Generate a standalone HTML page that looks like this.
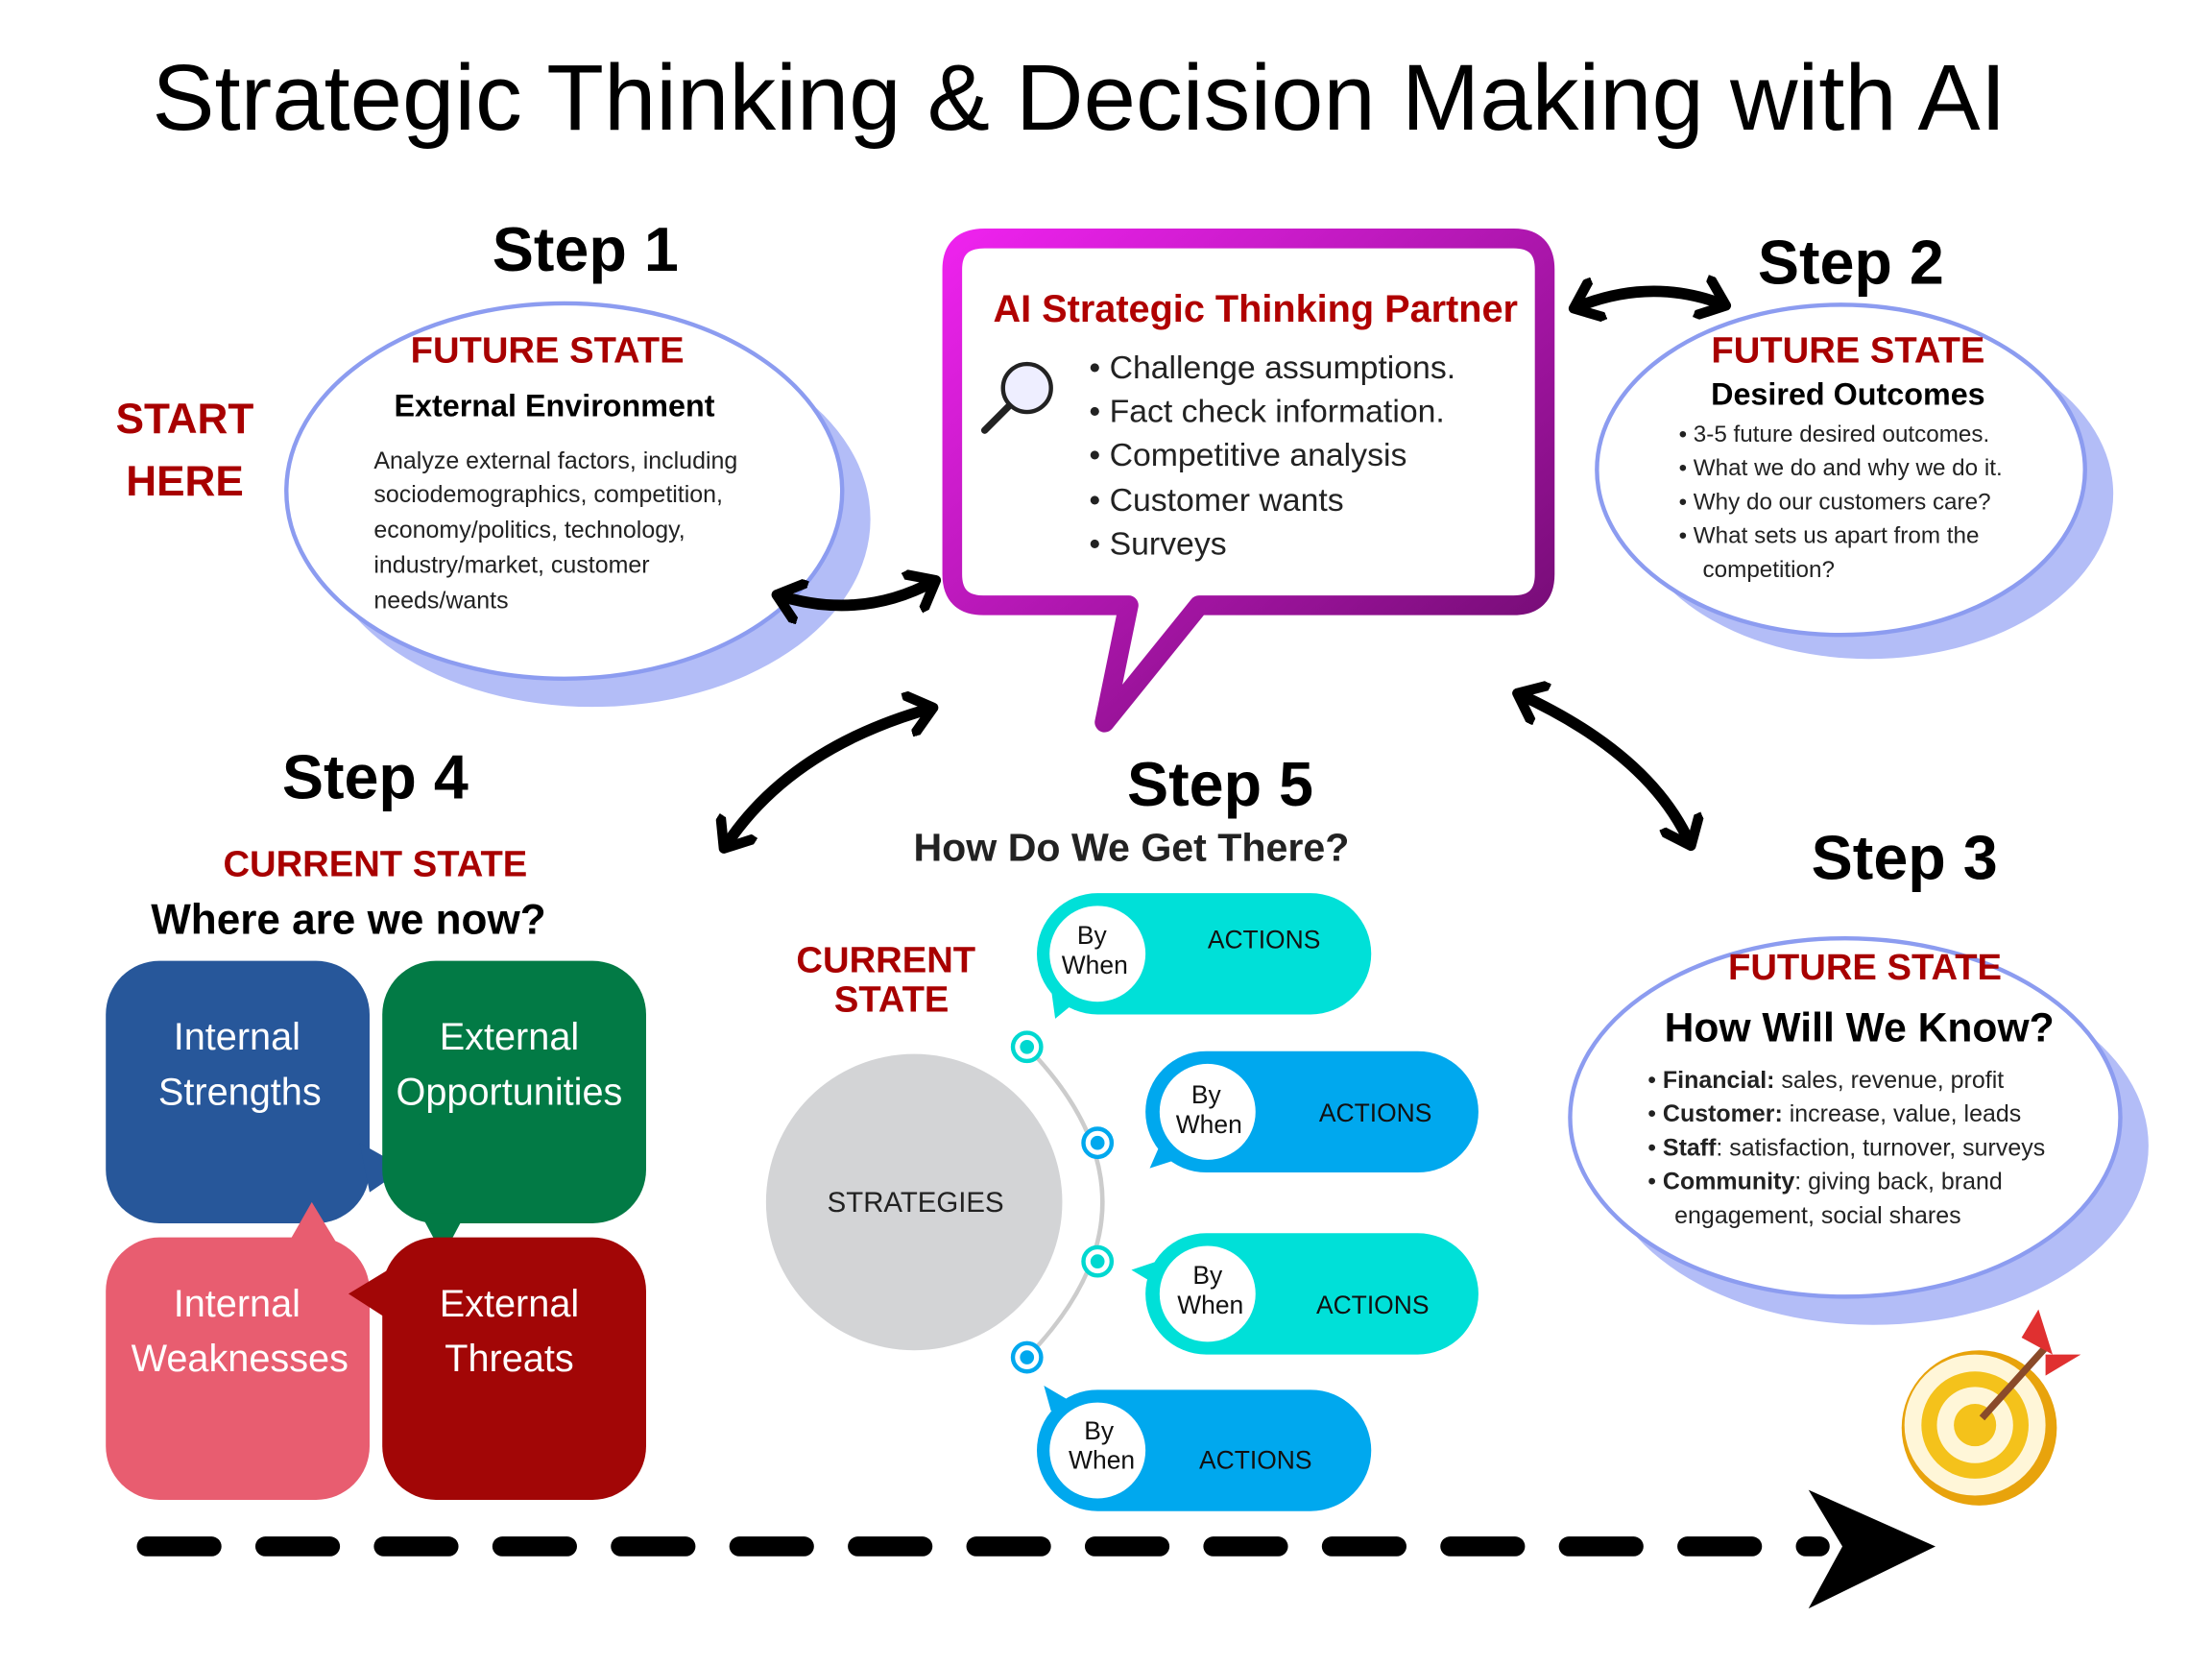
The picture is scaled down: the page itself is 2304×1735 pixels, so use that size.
<!DOCTYPE html>
<html><head><meta charset="utf-8"><style>
body{margin:0;background:#fff;overflow:hidden}
#w{width:1568px;height:1176px;transform:scale(1.469388);transform-origin:0 0;position:relative}
svg text{font-family:"Liberation Sans",sans-serif}
</style></head><body><div id="w">
<svg width="1568" height="1176" viewBox="0 0 1568 1176" xmlns="http://www.w3.org/2000/svg">
<defs>
<linearGradient id="g" x1="0" y1="0" x2="1" y2="1"><stop offset="0" stop-color="#ee22ee"/><stop offset="1" stop-color="#6a0a6a"/></linearGradient>
<marker id="ah" markerWidth="4" markerHeight="4" refX="2.2" refY="2" orient="auto-start-reverse" markerUnits="strokeWidth"><path d="M0.3,0.3 L2.4,2 L0.3,3.7" fill="none" stroke="#000" stroke-width="0.9" stroke-linecap="round" stroke-linejoin="round"/></marker>
</defs>
<text x="765" y="92" font-size="66.5" text-anchor="middle">Strategic Thinking &amp; Decision Making with AI</text>

<!-- Step 1 -->
<text x="415" y="192" font-size="44" font-weight="bold" text-anchor="middle">Step 1</text>
<ellipse cx="420" cy="368" rx="197" ry="133" fill="#b3bdf7"/>
<ellipse cx="400" cy="348" rx="197" ry="133" fill="#fff" stroke="#8c9cf0" stroke-width="3"/>
<text x="388" y="257" font-size="26" font-weight="bold" fill="#a80000" text-anchor="middle">FUTURE STATE</text>
<text x="393" y="295" font-size="22" font-weight="bold" text-anchor="middle">External  Environment</text>
<g font-size="17" fill="#222"><text x="265" y="332">Analyze external factors, including</text><text x="265" y="356">sociodemographics, competition,</text><text x="265" y="381">economy/politics, technology,</text><text x="265" y="406">industry/market, customer</text><text x="265" y="431">needs/wants</text></g>
<g font-size="30" font-weight="bold" fill="#a80000" text-anchor="middle"><text x="131" y="307">START</text><text x="131" y="351">HERE</text></g>

<!-- bubble -->
<path d="M698,169 H1073 Q1095,169 1095,191 V407 Q1095,429 1073,429 H850 L783,512 L800,429 H697 Q675,429 675,407 V191 Q675,169 698,169 Z" fill="#fff" stroke="url(#g)" stroke-width="14" stroke-linejoin="round"/>
<text x="890" y="228" font-size="27" font-weight="bold" fill="#b00000" text-anchor="middle">AI Strategic Thinking Partner</text>
<g font-size="23" fill="#222"><text x="772" y="268">•  Challenge assumptions.</text><text x="772" y="299">•  Fact check  information.</text><text x="772" y="330">•  Competitive analysis</text><text x="772" y="362">•  Customer wants</text><text x="772" y="393">•  Surveys</text></g>
<circle cx="728" cy="275" r="17" fill="#eef" stroke="#222" stroke-width="3"/>
<line x1="715" y1="288" x2="698" y2="305" stroke="#222" stroke-width="5" stroke-linecap="round"/>

<!-- Step 2 -->
<text x="1312" y="201" font-size="44" font-weight="bold" text-anchor="middle">Step 2</text>
<ellipse cx="1325" cy="350" rx="173" ry="117" fill="#b3bdf7"/>
<ellipse cx="1305" cy="333" rx="173" ry="117" fill="#fff" stroke="#8c9cf0" stroke-width="3"/>
<text x="1310" y="257" font-size="26" font-weight="bold" fill="#a80000" text-anchor="middle">FUTURE STATE</text>
<text x="1310" y="287" font-size="22" font-weight="bold" text-anchor="middle">Desired Outcomes</text>
<g font-size="16.5" fill="#222"><text x="1190" y="313">•  3-5 future desired outcomes.</text><text x="1190" y="337">•  What we do and why we do it.</text><text x="1190" y="361">•  Why do our customers care?</text><text x="1190" y="385">•  What sets us apart from the</text><text x="1207" y="409">competition?</text></g>

<!-- Step 3 -->
<text x="1350" y="623" font-size="44" font-weight="bold" text-anchor="middle">Step 3</text>
<ellipse cx="1328" cy="812" rx="195" ry="127" fill="#b3bdf7"/>
<ellipse cx="1308" cy="792" rx="195" ry="127" fill="#fff" stroke="#8c9cf0" stroke-width="3"/>
<text x="1322" y="694" font-size="26" font-weight="bold" fill="#a80000" text-anchor="middle">FUTURE STATE</text>
<text x="1318" y="738" font-size="29" font-weight="bold" text-anchor="middle">How Will We Know?</text>
<g font-size="17" fill="#222"><text x="1168" y="771">•  <tspan font-weight="bold">Financial:</tspan> sales, revenue, profit</text><text x="1168" y="795">•  <tspan font-weight="bold">Customer:</tspan> increase, value, leads</text><text x="1168" y="819">•  <tspan font-weight="bold">Staff</tspan>: satisfaction, turnover, surveys</text><text x="1168" y="843">•  <tspan font-weight="bold">Community</tspan>: giving back, brand</text><text x="1187" y="867">engagement, social shares</text></g>

<!-- Step 4 -->
<text x="266" y="566" font-size="44" font-weight="bold" text-anchor="middle">Step 4</text>
<text x="266" y="621" font-size="26" font-weight="bold" fill="#a80000" text-anchor="middle">CURRENT STATE</text>
<text x="247" y="662" font-size="30" font-weight="bold" text-anchor="middle">Where are we now?</text>
<rect x="75" y="681" width="187" height="186" rx="38" fill="#27579a"/>
<path d="M255,810 L287,828 L262,845 Z" fill="#27579a"/>
<rect x="271" y="681" width="187" height="186" rx="38" fill="#027a45"/>
<path d="M298,860 L314,890 L330,860 Z" fill="#027a45"/>
<rect x="75" y="877" width="187" height="186" rx="38" fill="#e85d70"/>
<path d="M205,880 L221,852 L238,880 Z" fill="#e85d70"/>
<rect x="271" y="877" width="187" height="186" rx="38" fill="#a20606"/>
<path d="M275,900 L247,917 L275,935 Z" fill="#a20606"/>
<g font-size="27" fill="#fff" text-anchor="middle"><text x="168" y="744">Internal</text><text x="170" y="783">Strengths</text><text x="361" y="744">External</text><text x="361" y="783">Opportunities</text><text x="168" y="933">Internal</text><text x="170" y="972">Weaknesses</text><text x="361" y="933">External</text><text x="361" y="972">Threats</text></g>

<!-- Step 5 -->
<text x="865" y="571" font-size="44" font-weight="bold" text-anchor="middle">Step 5</text>
<text x="802" y="610" font-size="28" font-weight="bold" fill="#222" text-anchor="middle">How Do We Get There?</text>
<g font-size="26" font-weight="bold" fill="#a80000" text-anchor="middle"><text x="628" y="689">CURRENT</text><text x="632" y="717">STATE</text></g>
<path d="M728,742 Q835,852 728,962" fill="none" stroke="#ccc" stroke-width="3"/>
<circle cx="648" cy="852" r="105" fill="#d3d4d6"/>
<text x="649" y="859" font-size="20" fill="#222" text-anchor="middle">STRATEGIES</text>
<g stroke-width="3" fill="#fff">
<circle cx="728" cy="742" r="10" stroke="#00d8d0"/><circle cx="728" cy="742" r="5" fill="#00d8d0" stroke="none"/>
<circle cx="778" cy="810" r="10" stroke="#00a8ee"/><circle cx="778" cy="810" r="5" fill="#00a8ee" stroke="none"/>
<circle cx="778" cy="894" r="10" stroke="#00d8d0"/><circle cx="778" cy="894" r="5" fill="#00d8d0" stroke="none"/>
<circle cx="728" cy="962" r="10" stroke="#00a8ee"/><circle cx="728" cy="962" r="5" fill="#00a8ee" stroke="none"/>
</g>
<g font-size="18" fill="#111">
<rect x="735" y="633" width="237" height="86" rx="43" fill="#00e0d8"/><path d="M745,700 L748,722 L765,708Z" fill="#00e0d8"/>
<circle cx="778" cy="676" r="34" fill="#fff"/><text x="774" y="669" text-anchor="middle">By</text><text x="776" y="690" text-anchor="middle">When</text><text x="896" y="672" text-anchor="middle">ACTIONS</text>
<rect x="812" y="745" width="236" height="86" rx="43" fill="#00a8ee"/><path d="M822,812 L815,828 L840,820Z" fill="#00a8ee"/>
<circle cx="856" cy="788" r="34" fill="#fff"/><text x="855" y="782" text-anchor="middle">By</text><text x="857" y="803" text-anchor="middle">When</text><text x="975" y="795" text-anchor="middle">ACTIONS</text>
<rect x="812" y="874" width="236" height="86" rx="43" fill="#00e0d8"/><path d="M820,894 L802,900 L822,912Z" fill="#00e0d8"/>
<circle cx="856" cy="917" r="34" fill="#fff"/><text x="856" y="910" text-anchor="middle">By</text><text x="858" y="931" text-anchor="middle">When</text><text x="973" y="931" text-anchor="middle">ACTIONS</text>
<rect x="735" y="985" width="237" height="86" rx="43" fill="#00a8ee"/><path d="M745,1000 L740,982 L762,995Z" fill="#00a8ee"/>
<circle cx="778" cy="1028" r="34" fill="#fff"/><text x="779" y="1020" text-anchor="middle">By</text><text x="781" y="1041" text-anchor="middle">When</text><text x="890" y="1041" text-anchor="middle">ACTIONS</text>
</g>

<!-- arrows -->
<g fill="none" stroke="#000" stroke-width="8" stroke-linecap="round" marker-start="url(#ah)" marker-end="url(#ah)">
<path d="M1117,218 Q1170,196 1222,216"/>
<path d="M552,422 Q610,440 662,412"/>
<path d="M514,600 Q560,530 660,502"/>
<path d="M1077,492 Q1170,535 1198,598"/>
</g>

<!-- dashed arrow -->
<line x1="104" y1="1096" x2="1290" y2="1096" stroke="#000" stroke-width="14" stroke-linecap="round" stroke-dasharray="46 38"/>
<path d="M1282,1056 L1372,1096 L1282,1140 L1306,1096 Z" fill="#000"/>

<!-- target -->
<circle cx="1403" cy="1012" r="55" fill="#e8a30c"/>
<circle cx="1400" cy="1010" r="50" fill="#fff6d8"/>
<circle cx="1400" cy="1010" r="38" fill="#f4c21b"/>
<circle cx="1400" cy="1010" r="27" fill="#fff6d8"/>
<circle cx="1400" cy="1010" r="15" fill="#f4c21b"/>
<line x1="1405" y1="1005" x2="1450" y2="955" stroke="#8a4a2a" stroke-width="5"/>
<path d="M1433,948 L1445,928 L1455,960 Z M1450,960 L1475,960 L1450,975 Z" fill="#e03030"/>
</svg>
</div></body></html>
